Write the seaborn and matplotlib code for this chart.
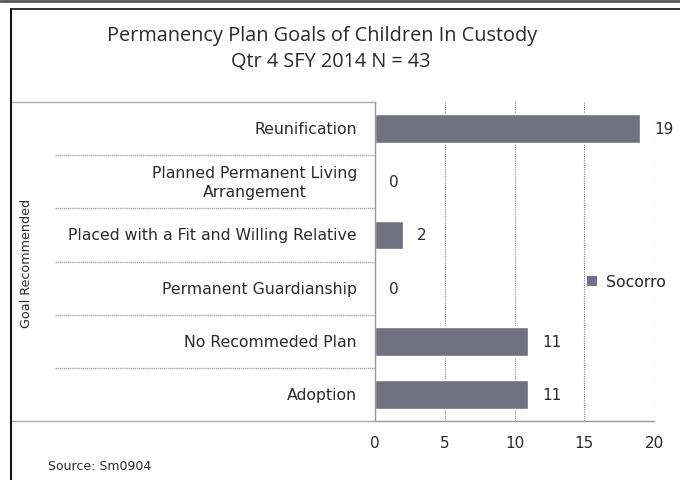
import matplotlib
matplotlib.use("Agg")
import matplotlib.pyplot as plt
from matplotlib.lines import Line2D
from matplotlib.patches import Patch
import seaborn as sns
import pandas as pd

categories = ["Reunification",
              "Planned Permanent Living\nArrangement",
              "Placed with a Fit and Willing Relative",
              "Permanent Guardianship",
              "No Recommeded Plan",
              "Adoption"]
values = [19, 0, 2, 0, 11, 11]
series_name = "Socorro"
xticks = [0, 5, 10, 15, 20]

df = pd.DataFrame({"goal": categories, "count": values})

sns.set_theme(style="white")
plt.rcParams["font.family"] = ["DejaVu Sans"]

W, H = 680, 481
fig = plt.figure(figsize=(6.8, 4.81), dpi=100)

def fx(px):
    return px / W

def fy(py):
    return 1 - py / H

x0, x1 = 375, 654
y0, y1 = 103, 422
ax = fig.add_axes([fx(x0), fy(y1), fx(x1) - fx(x0), fy(y0) - fy(y1)])

bar_color = "#71717f"
txt_color = "#2a2a2a"
sns.barplot(data=df, x="count", y="goal", orient="h", color=bar_color,
            width=0.54, ax=ax, saturation=1)

ax.set_xlim(0, 20)
ax.set_xticks(xticks)
ax.set_xticklabels([str(t) for t in xticks], fontsize=11, color=txt_color)
ax.set_yticklabels([])
ax.set_ylabel("")
ax.set_xlabel("")
ax.tick_params(axis="y", length=0)
ax.tick_params(axis="x", length=5, width=0.8, color="#999999", direction="out", pad=5)
for s in ["top", "right"]:
    ax.spines[s].set_visible(False)
ax.spines["left"].set_color("#999999")
ax.spines["bottom"].set_color("#999999")
ax.spines["left"].set_linewidth(1.0)
ax.spines["bottom"].set_linewidth(1.0)
ax.set_axisbelow(True)
ax.xaxis.grid(True, linestyle=(0, (1, 1)), color="#888888", linewidth=0.8)

ax.bar_label(ax.containers[0], labels=[str(v) for v in values], padding=10,
             fontsize=11, color=txt_color)

# category labels drawn in figure space
n = len(categories)
row_h = (y1 - y0) / n
for i, c in enumerate(categories):
    yc = y0 + row_h * (i + 0.5)
    fig.text(fx(357), fy(yc), c, ha="right", va="center", fontsize=11.3,
             color=txt_color, multialignment="center", linespacing=1.3)

# separators
sep_color = "#aaaaaa"
for i in range(1, n):
    yy = fy(y0 + row_h * i)
    fig.add_artist(Line2D([fx(55), fx(x0)], [yy, yy], color=sep_color, lw=1.0,
                          linestyle=(0, (1, 0.5))))
fig.add_artist(Line2D([fx(12), fx(x0)], [fy(y0), fy(y0)], color=sep_color, lw=1.0))
fig.add_artist(Line2D([fx(12), fx(x0)], [fy(y1), fy(y1)], color=sep_color, lw=1.0))

# axis title
fig.text(fx(26), fy(263), "Goal Recommended", rotation=90, ha="center", va="center",
         fontsize=9.2, color=txt_color, family=["Liberation Sans Narrow", "DejaVu Sans"])

# legend
handles = [Patch(facecolor=bar_color, edgecolor="none", label=series_name)]
fig.legend(handles=handles, loc="center left", bbox_to_anchor=(fx(587), fy(283)),
           frameon=False, fontsize=11.3, handlelength=0.65, handleheight=0.65,
           handletextpad=0.55, borderaxespad=0, borderpad=0)

# title
fig.text(fx(322), fy(36), "Permanency Plan Goals of Children In Custody",
         ha="center", va="center", fontsize=14.3, color=txt_color,
         family=["Open Sans", "DejaVu Sans"])
fig.text(fx(331), fy(62), "Qtr 4 SFY 2014 N = 43",
         ha="center", va="center", fontsize=14.3, color=txt_color,
         family=["Open Sans", "DejaVu Sans"])

# source
fig.text(fx(48), fy(467), "Source: Sm0904", ha="left", va="center",
         fontsize=9, color=txt_color)

# outer frame
fig.add_artist(Line2D([0, 1], [fy(2), fy(2)], color="#555555", lw=2))
fig.add_artist(Line2D([fx(11), 1], [fy(10), fy(10)], color="#111111", lw=1.2))
fig.add_artist(Line2D([fx(11), fx(11)], [fy(10), 0], color="#111111", lw=1.5))

fig.savefig("out.png", dpi=100)
